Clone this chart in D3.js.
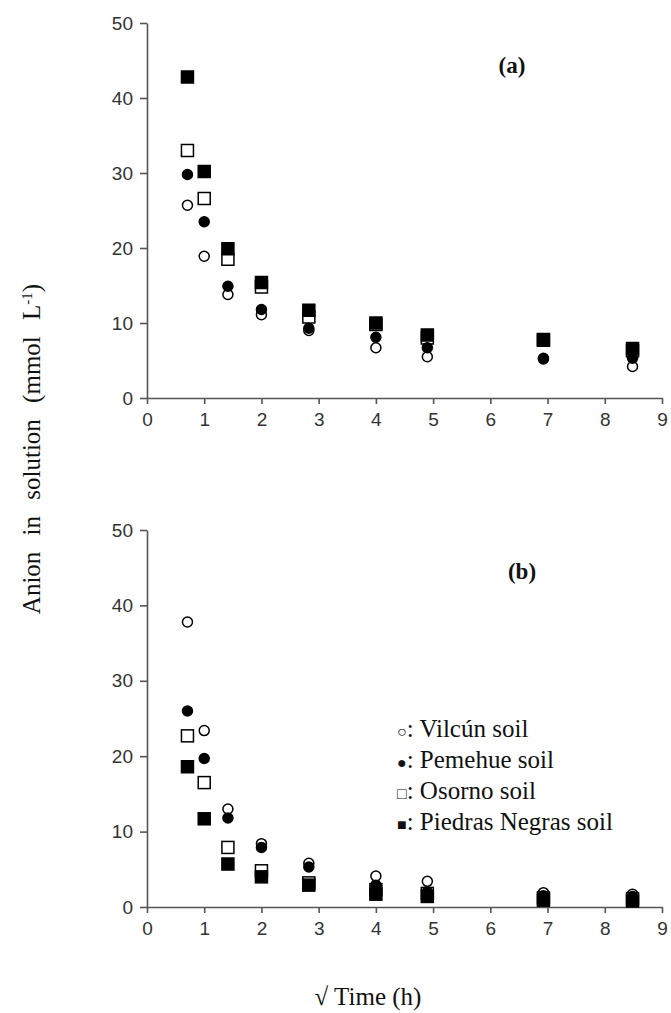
<!DOCTYPE html>
<html>
<head>
<meta charset="utf-8">
<script src="https://cdn.jsdelivr.net/npm/d3@7"></script>
<style>
  body { margin: 0; background: #fff; }
  svg { display: block; }
  .tick text { font-family: "Liberation Sans", Arial, sans-serif; font-size: 19px; fill: #333; }
  .domain, .tick line { stroke: #555; stroke-width: 1.6; }
  .serif { font-family: "Liberation Serif", "Times New Roman", serif; fill: #111; }
</style>
</head>
<body>
<div id="chart"></div>
<script>
// sqrt of sampling time (h)
const sqrtTime = [0.707, 1, 1.414, 2, 2.828, 4, 4.899, 6.928, 8.485];
const yTicks = [0, 10, 20, 30, 40, 50];
const xTicks = [0, 1, 2, 3, 4, 5, 6, 7, 8, 9];
const soilNames = ['Vilcún soil', 'Pemehue soil', 'Osorno soil', 'Piedras Negras soil'];

// panel (a)
const vilcunA = [25.7, 18.9, 13.8, 11.1, 9.0, 6.7, 5.5, 5.2, 4.2];
const pemehueA = [29.8, 23.5, 14.9, 11.8, 9.3, 8.1, 6.7, 5.3, 5.3];
const osornoA = [33.0, 26.6, 18.5, 14.8, 10.8, 9.8, 8.0, 7.7, 6.3];
const piedrasA = [42.8, 30.2, 19.9, 15.4, 11.7, 10.0, 8.4, 7.8, 6.6];

// panel (b)
const vilcunB = [37.8, 23.4, 13.0, 8.4, 5.8, 4.1, 3.4, 1.9, 1.7];
const pemehueB = [26.0, 19.7, 11.8, 7.9, 5.3, 2.9, 2.0, 1.5, 1.4];
const osornoB = [22.7, 16.5, 7.9, 4.8, 3.2, 2.3, 1.8, 1.2, 1.1];
const piedrasB = [18.6, 11.7, 5.7, 4.0, 2.9, 1.7, 1.4, 0.9, 0.8];

const width = 671, height = 1013;

const svg = d3.select('#chart').append('svg')
    .attr('width', width)
    .attr('height', height);

const x = d3.scaleLinear().domain([0, 9]).range([147, 662]);

// marker styles per soil: open circle, filled circle, open square, filled square
const markers = [
    { shape: 'circle', fill: '#fff' },
    { shape: 'circle', fill: '#000' },
    { shape: 'square', fill: '#fff' },
    { shape: 'square', fill: '#000' }
];

function drawPanel(y, series, label, labelX, labelY) {
    const g = svg.append('g');

    g.append('g')
        .attr('transform', `translate(${x(0)},0)`)
        .call(d3.axisLeft(y).tickValues(yTicks).tickSize(7).tickSizeOuter(0).tickPadding(7));

    g.append('g')
        .attr('transform', `translate(0,${y(0)})`)
        .call(d3.axisBottom(x).tickValues(xTicks).tickSize(6).tickSizeOuter(0).tickPadding(9));

    // open markers first, filled ones on top
    [0, 2, 1, 3].forEach(function (k) {
        const pts = series[k].map((v, i) => [sqrtTime[i], v]);
        const m = markers[k];
        if (m.shape === 'circle') {
            g.selectAll(null).data(pts).enter().append('circle')
                .attr('cx', d => x(d[0]))
                .attr('cy', d => y(d[1]))
                .attr('r', 5)
                .attr('fill', m.fill)
                .attr('stroke', '#000')
                .attr('stroke-width', 1.5);
        } else {
            g.selectAll(null).data(pts).enter().append('rect')
                .attr('x', d => x(d[0]) - 6)
                .attr('y', d => y(d[1]) - 6)
                .attr('width', 12)
                .attr('height', 12)
                .attr('fill', m.fill)
                .attr('stroke', '#000')
                .attr('stroke-width', 1.5);
        }
    });

    g.append('text')
        .attr('class', 'serif')
        .attr('x', labelX)
        .attr('y', labelY)
        .attr('text-anchor', 'middle')
        .attr('font-size', 23)
        .attr('font-weight', 'bold')
        .text(label);
}

const yA = d3.scaleLinear().domain([0, 50]).range([398, 23]);
const yB = d3.scaleLinear().domain([0, 50]).range([907, 530]);

drawPanel(yA, [vilcunA, pemehueA, osornoA, piedrasA], '(a)', 512, 73);
drawPanel(yB, [vilcunB, pemehueB, osornoB, piedrasB], '(b)', 522, 579);

// legend (inside panel b)
const symbols = ['○', '●', '□', '■'];
const legend = svg.append('g').attr('class', 'serif').attr('font-size', 25);
soilNames.forEach(function (name, i) {
    const t = legend.append('text')
        .attr('x', 397)
        .attr('y', 737 + i * 31);
    t.append('tspan').attr('font-size', 16).text(symbols[i]);
    t.append('tspan').text(': ' + name);
});

// axis titles
svg.append('text')
    .attr('class', 'serif')
    .attr('transform', 'translate(40,449) rotate(-90)')
    .attr('text-anchor', 'middle')
    .attr('font-size', 25)
    .style('word-spacing', '10px')
    .html('Anion in solution (mmol L<tspan baseline-shift="super" font-size="15">-1</tspan>)');

svg.append('text')
    .attr('class', 'serif')
    .attr('x', 368)
    .attr('y', 1005)
    .attr('text-anchor', 'middle')
    .attr('font-size', 25)
    .text('√ Time (h)');
</script>
</body>
</html>
